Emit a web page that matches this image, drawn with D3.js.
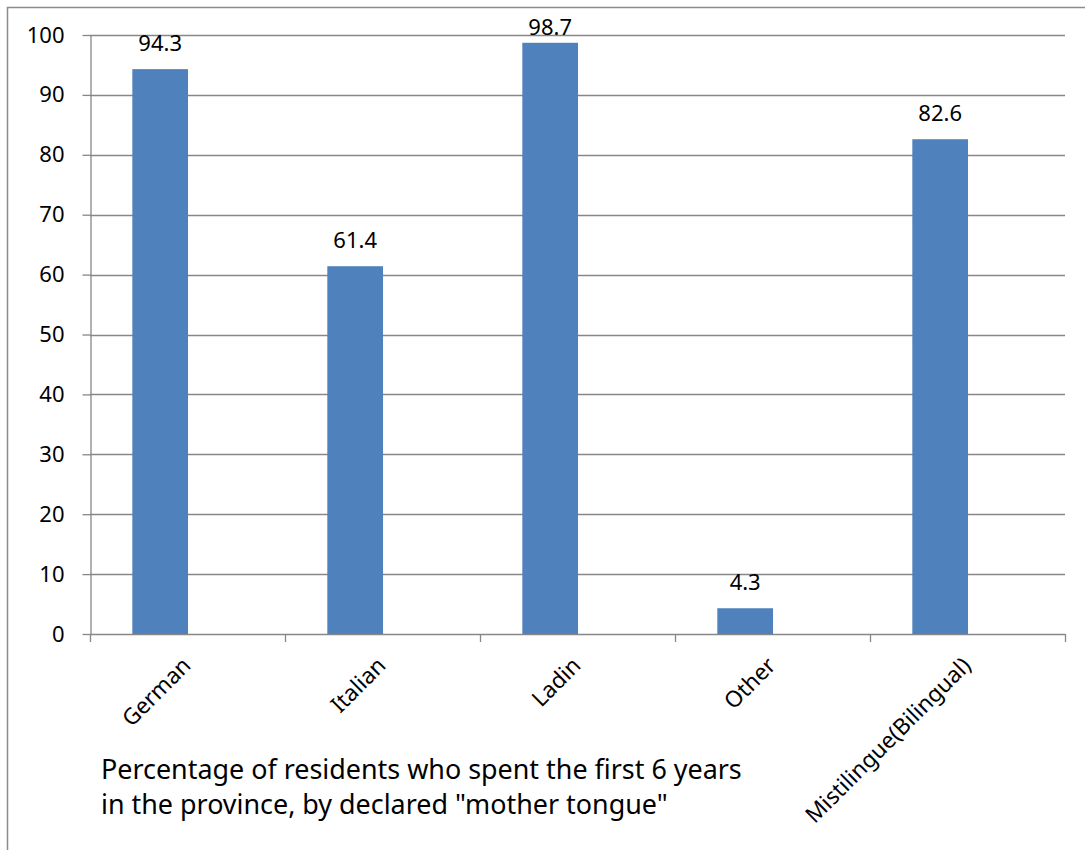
<!DOCTYPE html>
<html>
<head>
<meta charset="utf-8">
<script src="https://cdn.jsdelivr.net/npm/d3@7"></script>
<style>
  html, body { margin: 0; padding: 0; background: #fff; }
  svg { display: block; font-family: "Noto Sans", "Open Sans", sans-serif; }
</style>
</head>
<body>
<svg id="chart" width="1085" height="850"></svg>
<script>
const categories = ["German", "Italian", "Ladin", "Other", "Mistilingue(Bilingual)"];
const values = [94.3, 61.4, 98.7, 4.3, 82.6];
const yTicks = [0, 10, 20, 30, 40, 50, 60, 70, 80, 90, 100];
const titleLines = ["Percentage of residents who spent the first 6 years", "in the province, by declared \"mother tongue\""];

const svg = d3.select("#chart");
const W = 1085, H = 850;
const plot = { left: 90, right: 1065, top: 35, bottom: 634 };
const gridColor = "#878787";
const barColor = "#4F81BD";

// outer chart frame
svg.append("path")
  .attr("d", `M7.5,${H} L7.5,7.5 L${W},7.5`)
  .attr("fill", "none").attr("stroke", "#8c8c8c").attr("stroke-width", 1.5);

const x = d3.scaleBand().domain(categories).range([plot.left, plot.right]).paddingInner(0).paddingOuter(0);
const y = d3.scaleLinear().domain([0, 100]).range([plot.bottom, plot.top]);

// gridlines
svg.append("g").selectAll("line").data(yTicks.filter(d => d > 0)).join("line")
  .attr("x1", plot.left).attr("x2", plot.right)
  .attr("y1", d => Math.round(y(d)) + 0.5).attr("y2", d => Math.round(y(d)) + 0.5)
  .attr("stroke", gridColor).attr("stroke-width", 1.3);

// y axis
const yAxis = svg.append("g").attr("transform", `translate(${plot.left + 0.5},0)`)
  .call(d3.axisLeft(y).tickValues(yTicks).tickSize(8).tickPadding(18).tickSizeOuter(0));
yAxis.select(".domain").attr("stroke", gridColor).attr("stroke-width", 1.3);
yAxis.selectAll(".tick line").attr("stroke", gridColor).attr("stroke-width", 1.3);
yAxis.selectAll(".tick text").attr("font-size", 22).attr("fill", "#000")
  .attr("font-family", "Noto Sans, sans-serif");

// x axis baseline and boundary ticks
const boundaries = categories.map(c => x(c)).concat([plot.right]);
svg.append("line").attr("x1", plot.left).attr("x2", plot.right)
  .attr("y1", plot.bottom + 0.5).attr("y2", plot.bottom + 0.5)
  .attr("stroke", gridColor).attr("stroke-width", 1.3);
svg.append("g").selectAll("line").data(boundaries).join("line")
  .attr("x1", d => d + 0.5).attr("x2", d => d + 0.5)
  .attr("y1", plot.bottom).attr("y2", plot.bottom + 8)
  .attr("stroke", gridColor).attr("stroke-width", 1.3);

// bars (drawn offset toward the left of each band as in the reference)
const bw = x.bandwidth();
const barW = bw / 3.5;
const barOffset = bw * 0.217;
const data = categories.map((c, i) => ({ c, v: values[i] }));
svg.append("g").selectAll("rect").data(data).join("rect")
  .attr("x", d => x(d.c) + barOffset)
  .attr("width", barW)
  .attr("y", d => y(d.v))
  .attr("height", d => y(0) - y(d.v))
  .attr("fill", barColor);

// value labels
svg.append("g").selectAll("text").data(data).join("text")
  .attr("x", d => x(d.c) + barOffset + barW / 2)
  .attr("y", d => Math.max(y(d.v) - 18, plot.top))
  .attr("text-anchor", "middle")
  .attr("font-size", 22).attr("fill", "#000")
  .text(d => d.v.toFixed(1));

// category labels rotated
svg.append("g").selectAll("text").data(data).join("text")
  .attr("transform", d => `translate(${x(d.c) + barOffset + barW / 2 + 32},${plot.bottom + 33}) rotate(-45)`)
  .attr("text-anchor", "end")
  .attr("font-size", 22.5).attr("fill", "#000")
  .text(d => d.c);

// title text below the chart
const title = svg.append("g");
titleLines.forEach((t, i) => {
  title.append("text")
    .attr("x", 101).attr("y", 779 + i * 35)
    .attr("font-size", 23).attr("fill", "#000")
    .text(t);
});
// fit first line to reference width
const first = title.select("text").node();
const target = 641;
const len = first.getComputedTextLength();
const fs = 23 * target / len;
title.selectAll("text").attr("font-size", fs);
</script>
</body>
</html>
